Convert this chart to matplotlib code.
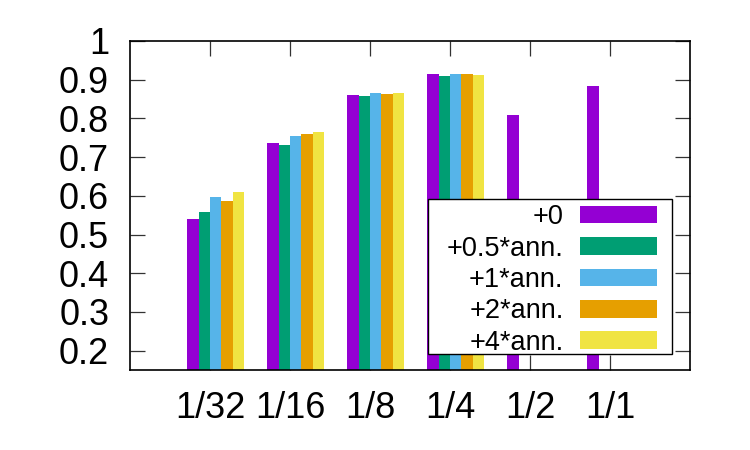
import matplotlib
matplotlib.use("Agg")
import matplotlib.pyplot as plt
from matplotlib.patches import Rectangle
import numpy as np

plt.rcParams['font.family'] = ['Liberation Sans', 'DejaVu Sans']

# Gruppen (x-Achse) und Serien
categories = ["1/32", "1/16", "1/8", "1/4", "1/2", "1/1"]
series_labels = ["+0", "+0.5*ann.", "+1*ann.", "+2*ann.", "+4*ann."]
colors = ['#9400d3', '#009e73', '#56b4e9', '#e69f00', '#f0e442']

plus0 = [0.540, 0.736, 0.861, 0.914, 0.810, 0.885]
plus05 = [0.558, 0.732, 0.859, 0.909, np.nan, np.nan]
plus1 = [0.598, 0.755, 0.865, 0.916, np.nan, np.nan]
plus2 = [0.586, 0.759, 0.862, 0.914, np.nan, np.nan]
plus4 = [0.611, 0.764, 0.866, 0.911, np.nan, np.nan]
series = [plus0, plus05, plus1, plus2, plus4]

yticks = [0.2, 0.3, 0.4, 0.5, 0.6, 0.7, 0.8, 0.9, 1.0]

fig = plt.figure(figsize=(7.5, 4.5), dpi=100)
ax = fig.add_axes([130 / 750, 1 - 370 / 450, 560 / 750, 329 / 450])

x = np.arange(len(categories))
width = 1 / 7  # gnuplot-Histogramm: 5 Balken + Lücke 2
for j, (vals, lab, col) in enumerate(zip(series, series_labels, colors)):
    ax.bar(x + (j - 1.5) * width, vals, width=width, color=col, label=lab,
           zorder=3, linewidth=0)

ax.set_xlim(-1, 6)
ax.set_ylim(0.15, 1.0)
ax.set_xticks(x)
ax.set_xticklabels(categories)
ax.set_yticks(yticks)
ax.set_yticklabels([f'{v:g}' for v in yticks])

ax.tick_params(direction='in', length=11, width=0.9, color='#333333',
               top=True, right=True, labelsize=26)
ax.tick_params(axis='x', pad=15)
ax.tick_params(axis='y', pad=15)
ax.set_axisbelow(True)
for s in ax.spines.values():
    s.set_linewidth(1.2)
    s.set_zorder(4)

# Legendenrahmen separat (gnuplot-Stil, links breiter)
ax.add_patch(Rectangle((0.532, 0.0486), 0.4357, 0.471, transform=ax.transAxes,
                       facecolor='white', edgecolor='black', linewidth=1.0,
                       zorder=4.5))
leg = ax.legend(loc='center right', bbox_to_anchor=(0.941, 0.2736),
                borderaxespad=0, markerfirst=False, fontsize=19.5,
                handlelength=2.85, handleheight=0.63, handletextpad=0.6,
                labelspacing=0.2, borderpad=0, frameon=False)
leg.set_zorder(5)

fig.savefig('out.png', dpi=100)
